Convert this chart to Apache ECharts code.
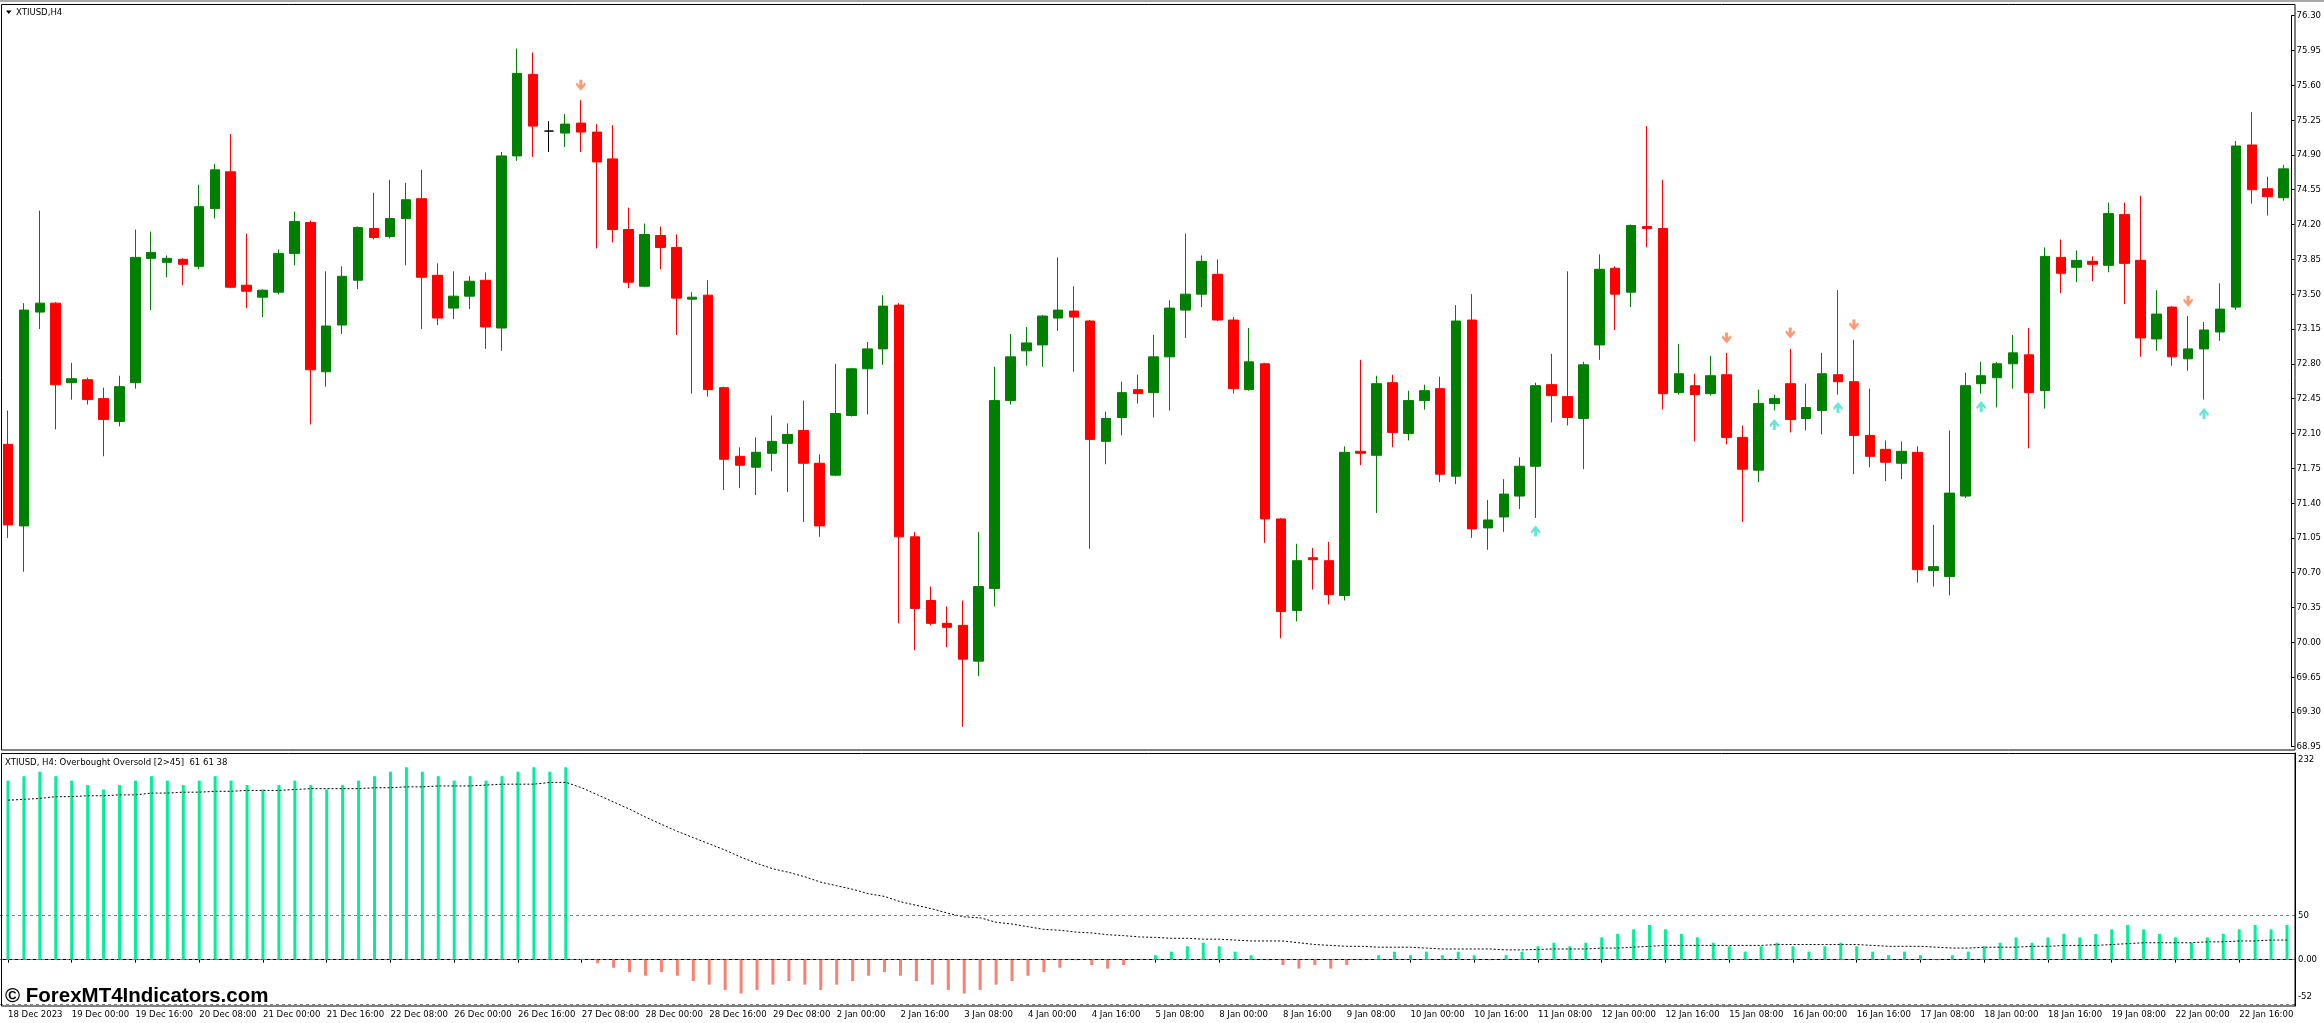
<!DOCTYPE html>
<html><head><meta charset="utf-8">
<script src="https://cdn.jsdelivr.net/npm/echarts@6/dist/echarts.min.js"></script>
<style>html,body{margin:0;padding:0;background:#fff}#c{width:2324px;height:1023px}</style>
</head><body><div id="c"></div>
<script>
// ---- data ----
const tickLabels = ["18 Dec 2023","19 Dec 00:00","19 Dec 16:00","20 Dec 08:00","21 Dec 00:00","21 Dec 16:00","22 Dec 08:00","26 Dec 00:00","26 Dec 16:00","27 Dec 08:00","28 Dec 00:00","28 Dec 16:00","29 Dec 08:00","2 Jan 00:00","2 Jan 16:00","3 Jan 08:00","4 Jan 00:00","4 Jan 16:00","5 Jan 08:00","8 Jan 00:00","8 Jan 16:00","9 Jan 08:00","10 Jan 00:00","10 Jan 16:00","11 Jan 08:00","12 Jan 00:00","12 Jan 16:00","15 Jan 08:00","16 Jan 00:00","16 Jan 16:00","17 Jan 08:00","18 Jan 00:00","18 Jan 16:00","19 Jan 08:00","22 Jan 00:00","22 Jan 16:00"];

const openP = [71.99,71.17,73.32,73.41,72.61,72.64,72.45,72.22,72.61,73.86, 73.82,73.85,73.78,74.36,74.73,73.59,73.47,73.52,73.91,74.22, 72.72,73.19,73.64,74.16,74.08,74.26,74.46,73.69,73.36,73.48, 73.64,73.16,74.89,75.71,75.14,75.12,75.22,75.13,74.86,74.15, 73.58,74.09,73.97,73.45,73.49,72.56,71.87,71.76,71.90,72.00, 72.13,71.80,71.68,72.28,72.75,72.95,73.39,71.06,70.42,70.19, 70.17,69.81,70.54,72.43,72.93,72.99,73.26,73.33,73.23,72.02, 72.26,72.54,72.51,72.87,73.34,73.50,73.70,73.24,72.54,72.80, 71.24,70.32,70.85,70.82,70.47,71.92,71.88,72.61,72.10,72.43, 72.55,71.67,73.24,71.15,71.26,71.47,71.77,72.59,72.47,72.25, 72.99,73.76,73.52,74.18,74.16,72.51,72.58,72.50,72.69,72.06, 71.73,72.40,72.60,72.25,72.33,72.69,72.62,72.08,71.94,71.80, 71.91,70.72,70.66,71.47,72.60,72.66,72.80,72.89,72.53,73.87, 73.77,73.83,73.79,74.30,73.84,73.05,73.37,72.85,72.95,73.12, 73.37,75.00,74.56,74.47];
const closeP = [71.18,73.34,73.41,72.59,72.65,72.44,72.24,72.57,73.87,73.92, 73.86,73.80,74.38,74.75,73.57,73.53,73.54,73.91,74.23,72.74, 73.18,73.68,74.17,74.07,74.26,74.45,73.67,73.26,73.48,73.63, 73.17,74.89,75.72,75.19,75.14,75.21,75.13,74.83,74.15,73.62, 74.10,73.97,73.46,73.47,72.54,71.84,71.78,71.91,72.02,72.09, 71.80,71.17,72.30,72.75,72.95,73.38,71.06,70.34,70.19,70.15, 69.83,70.56,72.43,72.87,73.01,73.28,73.34,73.27,72.04,72.25, 72.51,72.50,72.87,73.36,73.50,73.83,73.24,72.55,72.82,71.24, 70.31,70.82,70.83,70.48,71.91,71.90,72.60,72.11,72.43,72.53, 71.69,73.23,71.14,71.23,71.49,71.77,72.58,72.48,72.26,72.79, 73.75,73.50,74.19,74.16,72.50,72.70,72.49,72.68,72.06,71.74, 72.40,72.45,72.24,72.36,72.70,72.62,72.08,71.87,71.81,71.92, 70.73,70.76,71.50,72.58,72.68,72.80,72.91,72.51,73.88,73.71, 73.84,73.80,74.31,73.81,73.06,73.30,72.87,72.95,73.14,73.35, 74.99,74.55,74.48,74.76];
const lowP = [71.05,70.71,73.15,72.14,72.44,72.39,71.87,72.17,72.55,73.34, 73.67,73.59,73.75,74.26,73.56,73.36,73.27,73.50,73.79,72.19, 72.57,73.10,73.55,74.05,74.06,73.79,73.15,73.19,73.25,73.35, 72.95,72.93,74.84,74.88,74.93,74.98,74.93,73.96,74.02,73.56, 73.57,73.75,73.09,72.50,72.47,71.53,71.55,71.48,71.72,71.51, 71.21,71.06,71.67,72.27,72.29,72.79,70.19,69.92,70.17,69.95, 69.15,69.66,70.36,72.39,72.78,72.77,73.13,72.72,70.94,71.79, 72.08,72.40,72.26,72.33,73.06,73.37,73.23,72.50,72.53,71.00, 70.04,70.21,70.53,70.38,70.42,71.78,71.30,71.96,72.03,72.34, 71.61,71.59,71.05,70.93,71.11,71.34,71.25,72.21,72.18,71.74, 72.84,73.14,73.37,73.97,72.34,72.49,72.02,72.48,71.99,71.21, 71.61,72.33,72.11,72.13,72.09,72.49,71.69,71.76,71.62,71.64, 70.60,70.56,70.47,71.45,72.50,72.36,72.55,71.95,72.35,73.51, 73.62,73.63,73.72,73.40,72.87,72.93,72.78,72.73,72.44,73.03, 73.34,74.41,74.29,74.44];
const highP = [72.33,73.41,74.34,73.42,72.81,72.66,72.56,72.68,74.15,74.13, 73.89,73.86,74.60,74.81,75.11,74.11,73.55,73.95,74.33,74.24, 73.73,73.78,74.18,74.52,74.65,74.62,74.75,73.81,73.73,73.68, 73.72,74.93,75.97,75.93,75.24,75.31,75.45,75.21,75.20,74.37, 74.21,74.18,74.10,73.52,73.64,72.57,71.96,72.06,72.28,72.20, 72.43,71.89,72.80,72.76,73.02,73.49,73.41,71.11,70.56,70.36, 70.42,71.11,72.77,73.10,73.17,73.29,73.87,73.58,73.24,72.32, 72.62,72.69,73.09,73.44,74.11,73.89,73.85,73.27,73.16,72.81, 71.25,70.99,70.95,71.01,71.97,72.84,72.68,72.69,72.53,72.59, 72.67,73.39,73.50,71.43,71.64,71.86,72.61,72.90,73.73,72.82, 73.90,73.78,74.20,75.19,74.65,73.00,72.70,72.88,72.91,72.18, 72.54,72.49,72.95,72.60,72.91,73.54,73.04,72.55,72.03,72.02, 71.97,71.18,72.13,72.71,72.82,72.82,73.09,73.16,73.97,74.05, 73.94,73.88,74.42,74.42,74.49,73.54,73.38,73.28,73.22,73.61, 75.04,75.33,74.68,74.80];

const downArrowBars = [36, 108, 112, 116, 137];
const downArrowPrice = [75.60, 73.06, 73.11, 73.19, 73.43];
const upArrowBars = [96, 111, 115, 124, 138];
const upArrowPrice = [71.12, 72.19, 72.36, 72.37, 72.30];

const oscValues = [201,206,211,206,201,196,191,196,201,206, 201,196,201,206,201,196,191,196,201,196, 191,196,201,206,211,216,211,206,201,206, 201,206,211,216,211,216, 1,-4,-9,-14, -18,-14,-18,-24,-28,-34,-38,-34,-28,-24, -28,-34,-28,-24,-18,-14,-18,-24,-28,-34, -38,-34,-28,-24,-18,-14,-9,-0.5,-6,-10, -6,0,5,9,15,19,15,9,5,-0.5, -6,-10,-6,-10,-6,-0.5,5,9,5,9, 5,9,5,-0.5,5,9,15,19,15,19, 25,29,34,39,34,29,25,19,15,9, 15,19,15,9,15,19,15,9,5,9, 5,-0.5,5,9,15,19,25,19,25,29, 25,29,34,39,34,29,25,19,25,29, 34,39,34,39];
const signalValues = [179,180,181,183,183,184,184,185,185,187, 187,188,188,189,189,190,190,190,191,192, 192,192,192,193,193,194,194,195,195,195, 196,197,197,197,199,199, 193,185,177,169,160,152,144,137,130,123,115,108,102, 98,93,87,83,79,74,71,65,61,57, 52,48,47,42,40,37,34,33,31,30, 28,27,25.5,25,24,24,23,23,22,21, 21,21,19,17,16,15,15,14,14,14, 13,12,12,12,12,11,11,11.5, 12,12,12,13,13,14,15,16,16,16,16,16,16,16,17,17,17,17,17,17,16,15,15,15,14,13,13,14,14,14,15,15,16,16,16,17,18,19,19,19,19,20,20,21,21,22,22];
const oscLevels = [50, 0, -50];
const oscAxisLabels = [232, 50, 0, -52];

// ---- build ----
const cats = openP.map((_, i) => String(i));
const candleData = openP.map((o, i) => [o, closeP[i], lowP[i], highP[i]]);
const downData = downArrowBars.map((b, i) => [b, downArrowPrice[i]]);
const upData = upArrowBars.map((b, i) => [b, upArrowPrice[i]]);

const FONT = '"DejaVu Sans Condensed", "Liberation Sans", Arial, sans-serif';
const FS = 9.5;
const GL = -4.5, GW = 2299.5;
const oscMax = Math.max(...oscAxisLabels), oscMin = Math.min(...oscAxisLabels);

const chart = echarts.init(document.getElementById('c'), null, {renderer: 'canvas'});
const option = {
  animation: false,
  backgroundColor: '#ffffff',
  textStyle: {fontFamily: FONT},
  grid: [
    {left: GL, width: GW, top: 15.7, height: 731},
    {left: GL, width: GW, top: 753, height: 253}
  ],
  xAxis: [
    {type: 'category', gridIndex: 0, data: cats, boundaryGap: true,
     axisLine: {show: false}, axisTick: {show: false}, axisLabel: {show: false}, splitLine: {show: false}},
    {type: 'category', gridIndex: 1, data: cats, boundaryGap: true,
     axisLine: {show: true, lineStyle: {color: '#000', width: 1}},
     axisTick: {show: true, interval: 3, alignWithLabel: true, length: 3, lineStyle: {color: '#000'}},
     axisLabel: {show: true, interval: 3, align: 'left', margin: 4, color: '#000', fontSize: FS, fontFamily: FONT,
       formatter: (v, idx) => tickLabels[Math.round(idx / 4)] || ''},
     splitLine: {show: false}}
  ],
  yAxis: [
    {type: 'value', gridIndex: 0, position: 'right', min: 68.95, max: 76.30, interval: 0.35,
     axisLine: {show: true, lineStyle: {color: '#000', width: 1}},
     axisTick: {show: true, length: 3, lineStyle: {color: '#000'}},
     axisLabel: {show: true, margin: 5, color: '#000', fontSize: FS, fontFamily: FONT, formatter: v => v.toFixed(2)},
     splitLine: {show: false}},
    {type: 'value', gridIndex: 1, position: 'right', min: oscMin, max: oscMax,
     axisLine: {show: true, lineStyle: {color: '#000', width: 1}},
     axisTick: {show: false},
     axisLabel: {show: true, margin: 3, color: '#000', fontSize: FS, fontFamily: FONT,
       customValues: oscAxisLabels,
       formatter: v => (v === oscMax ? '{t|' + v + '}' : v === oscMin ? '{b|' + v + '}' : v === 0 ? '0.00' : String(v)),
       rich: {
         t: {fontSize: FS, fontFamily: FONT, color: '#000', padding: [14, 0, 0, 0]},
         b: {fontSize: FS, fontFamily: FONT, color: '#000', padding: [0, 0, 18, 0]}
       }},
     splitLine: {show: false}}
  ],
  series: [
    {type: 'candlestick', xAxisIndex: 0, yAxisIndex: 0, data: candleData, barWidth: 10, clip: true,
     itemStyle: {color: '#008000', color0: '#ff0000', borderColor: '#008000', borderColor0: '#ff0000',
       borderColorDoji: '#000000', borderWidth: 1}},
    {type: 'scatter', xAxisIndex: 0, yAxisIndex: 0, data: downData, z: 5,
     symbol: 'path://M3.5,0 L6.5,0 L6.5,5 L9,2.5 L10,4.5 L5,10 L0,4.5 L1,2.5 L3.5,5 Z',
     symbolSize: [10, 11], itemStyle: {color: '#FF7F50'}},
    {type: 'scatter', xAxisIndex: 0, yAxisIndex: 0, data: upData, z: 5,
     symbol: 'path://M3.5,10 L6.5,10 L6.5,5 L9,7.5 L10,5.5 L5,0 L0,5.5 L1,7.5 L3.5,5 Z',
     symbolSize: [10, 11], itemStyle: {color: '#40E0D0'}},
    {type: 'bar', xAxisIndex: 1, yAxisIndex: 1, data: oscValues, barWidth: 3,
     itemStyle: {color: p => (p.value >= 0 ? '#00F096' : '#FA8072')},
     markLine: {silent: true, symbol: 'none', label: {show: false},
       lineStyle: {color: '#808080', type: [3, 3], width: 1},
       data: oscLevels.map(v => ({yAxis: v}))}},
    {type: 'line', xAxisIndex: 1, yAxisIndex: 1, data: signalValues, symbol: 'none', z: 4,
     lineStyle: {color: '#000', width: 1, type: [2, 2]}}
  ],
  graphic: [
    {type: 'rect', z: 10, silent: true, shape: {x: 0, y: 0, width: 2324, height: 2}, style: {fill: '#a8a8a8'}},
    {type: 'rect', z: 10, silent: true, shape: {x: 1.5, y: 4.5, width: 2293.5, height: 745.5}, style: {fill: 'none', stroke: '#000', lineWidth: 1}},
    {type: 'rect', z: 10, silent: true, shape: {x: 1.5, y: 753.5, width: 2293.5, height: 252.5}, style: {fill: 'none', stroke: '#000', lineWidth: 1}},
    {type: 'polygon', z: 10, silent: true, shape: {points: [[6, 10.5], [11.5, 10.5], [8.75, 14]]}, style: {fill: '#000'}},
    {type: 'text', z: 10, silent: true, x: 16, y: 12.7, style: {text: 'XTIUSD,H4', fill: '#000', font: FS + 'px ' + FONT, verticalAlign: 'middle'}},
    {type: 'text', z: 10, silent: true, x: 5, y: 763, style: {text: 'XTIUSD, H4: Overbought Oversold [2>45]  61 61 38', fill: '#000', font: FS + 'px ' + FONT, verticalAlign: 'middle'}},
    {type: 'text', z: 10, silent: true, x: 5, y: 996, style: {text: '\u00A9 ForexMT4Indicators.com', fill: '#000', font: 'bold 20.5px "Liberation Sans", Arial, sans-serif', verticalAlign: 'middle'}}
  ]
};
chart.setOption(option);
</script>
</body></html>
